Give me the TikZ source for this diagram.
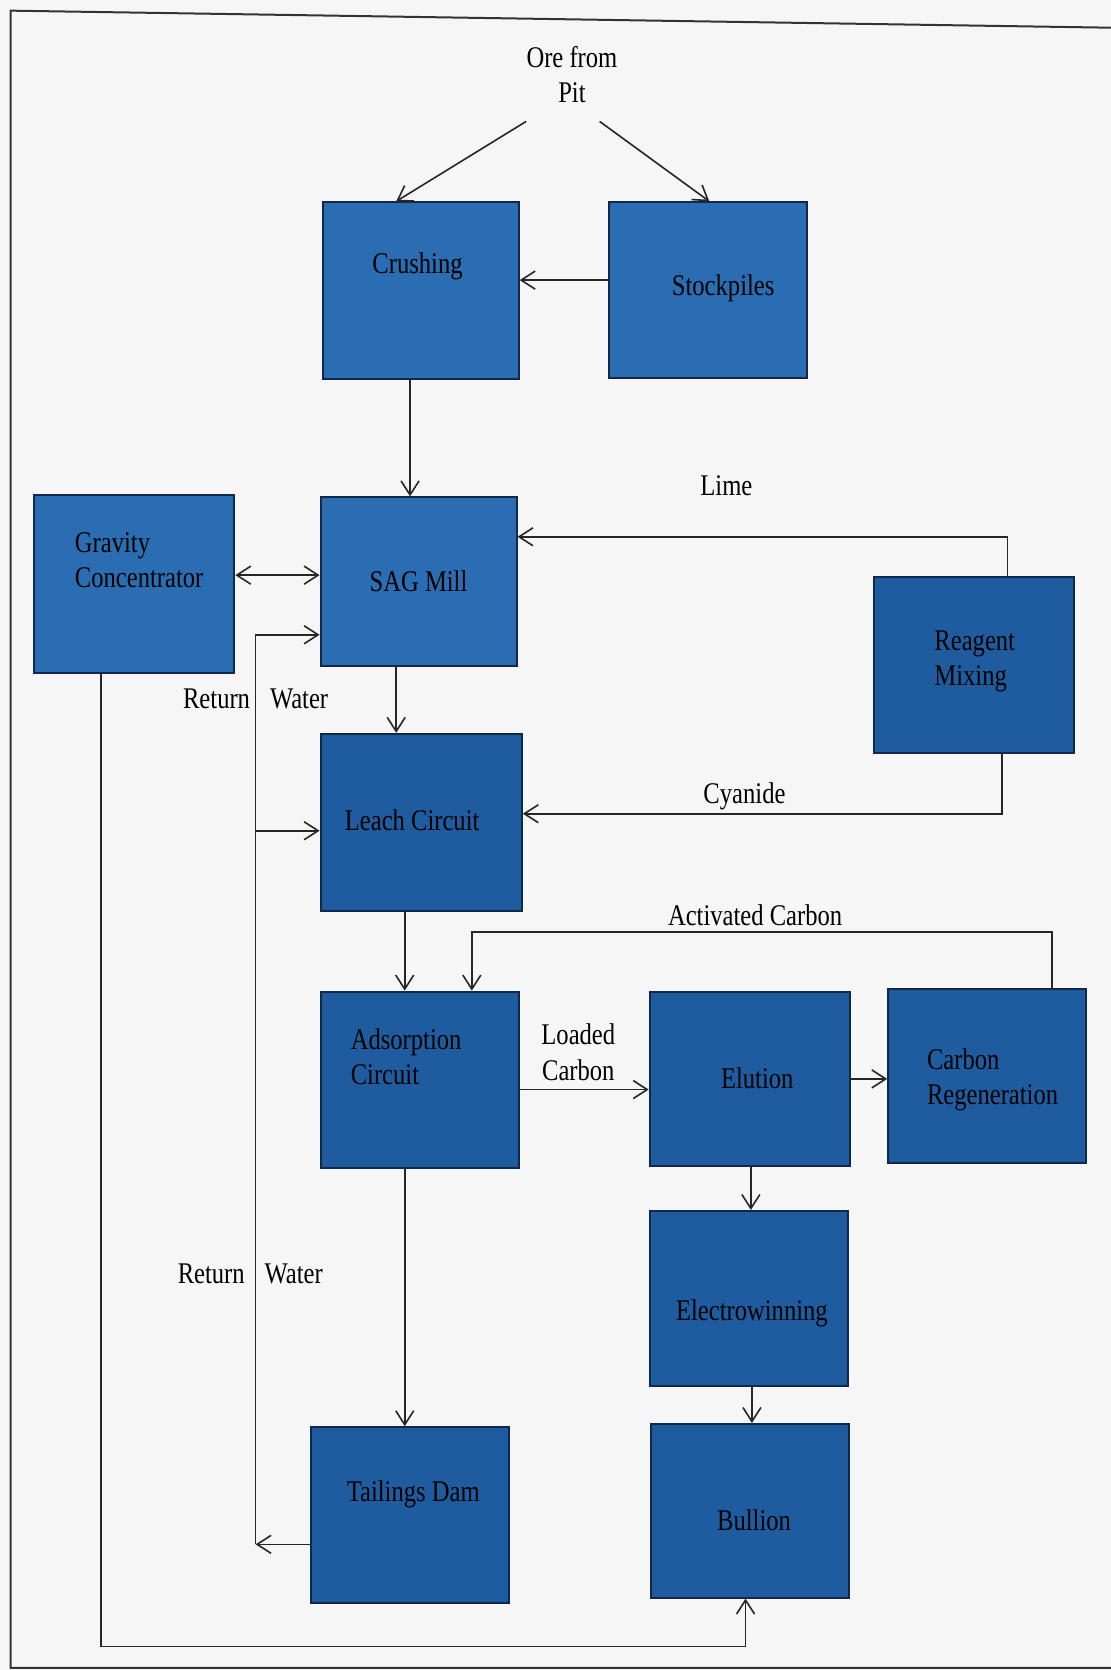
\documentclass[tikz,border=0pt]{standalone}
\usepackage{fontspec}
\setmainfont{Liberation Serif}[FakeStretch=0.82]
\usetikzlibrary{arrows.meta,fit}
\definecolor{bglight}{RGB}{246,246,247}
\definecolor{boxA}{RGB}{42,109,178}
\definecolor{boxB}{RGB}{31,92,159}
\definecolor{edgeblue}{RGB}{18,40,72}
\begin{document}
\begin{tikzpicture}[x=0.5326pt,y=-0.5326pt,
  pbox/.style={draw=edgeblue, line width=1pt, inner sep=0pt, fill=boxA},
  pboxd/.style={pbox, fill=boxB},
  lbl/.style={font=\fontsize{15}{17.6}\selectfont, inner sep=0pt, align=center},
  lbll/.style={lbl, align=left, anchor=west},
  flow/.style={draw=black!85, line width=0.8pt, -{Straight Barb[length=7pt,width=9pt,line width=0.8pt]}},
  dflow/.style={flow, {Straight Barb[length=7pt,width=9pt,line width=0.8pt]}-{Straight Barb[length=7pt,width=9pt,line width=0.8pt]}}]
\useasboundingbox (0,0) rectangle (1043,1568);
\fill[bglight] (0,0) rectangle (1043,1568);
\draw[line width=1pt, black!80] (1043,26) -- (10,10) -- (10,1566) -- (1043,1566);

% boxes
\node[pbox, fit={(303,190) (487,356)}] (crush) {};
\node[pbox, fit={(572,190) (758,355)}] (stock) {};
\node[pbox, fit={(32,465) (220,632)}] (grav) {};
\node[pbox, fit={(301,467) (485,625)}] (sag) {};
\node[pboxd, fit={(821,542) (1008,707)}] (reag) {};
\node[pboxd, fit={(301,689) (490,855)}] (leach) {};
\node[pboxd, fit={(301,931) (487,1097)}] (ads) {};
\node[pboxd, fit={(610,931) (798,1095)}] (elu) {};
\node[pboxd, fit={(834,929) (1020,1092)}] (creg) {};
\node[pboxd, fit={(610,1137) (796,1301)}] (ew) {};
\node[pboxd, fit={(292,1340) (478,1505)}] (tail) {};
\node[pboxd, fit={(611,1337) (797,1500)}] (bull) {};

% box texts
\node[lbl] (tcrush) at (392,250) {Crushing};
\node[lbl] (tstock) at (679,271) {Stockpiles};
\node[lbll] (tgrav) at (70,526) {Gravity\\Concentrator};
\node[lbl] (tsag) at (393,546) {SAG Mill};
\node[lbll] (treag) at (877,621) {Reagent\\Mixing};
\node[lbl] (tleach) at (387,770) {Leach Circuit};
\node[lbll] (tads) at (329,992) {Adsorption\\Circuit};
\node[lbl] (telu) at (711,1012) {Elution};
\node[lbll] (tcreg) at (870,1014) {Carbon\\Regeneration};
\node[lbl] (tew) at (706,1233) {Electrowinning};
\node[lbl] (ttail) at (388,1403) {Tailings Dam};
\node[lbl] (tbull) at (708,1427) {Bullion};

% free labels
\node[lbl] (ore) at (537,70) {Ore from\\Pit};
\node[lbl] (lime) at (682,456) {Lime};
\node[lbl] (cyan) at (699,748) {Cyanide};
\node[lbl] (actc) at (709,859) {Activated Carbon};
\node[lbl] (loadc) at (543,988) {Loaded\\Carbon};
\node[lbl] (rw1) at (240,656) {Return\hspace{10pt}Water};
\node[lbl] (rw2) at (235,1196) {Return\hspace{10pt}Water};

% coordinates
\coordinate (o1) at (494,114);
\coordinate (o2) at (563,114);
\coordinate (rw) at (240,1450);
\coordinate (rwb) at (240,780);
\coordinate (ac) at (443,875);
\coordinate (gb) at (95,1546);

% connectors
\draw[flow] (o1) -- (crush.north -| 372,0);
\draw[flow] (o2) -- (stock.north -| 666,0);
\draw[flow] (stock.west |- 0,263) -- (crush.east |- 0,263);
\draw[flow] (crush.south -| 385,0) -- (sag.north -| 385,0);
\draw[flow] (reag.north -| 946,0) |- (sag.east |- 0,504);
\draw[dflow] (grav.east |- 0,540) -- (sag.west |- 0,540);
\draw[flow] (sag.south -| 372,0) -- (leach.north -| 372,0);
\draw[flow] (reag.south -| 941,0) |- (leach.east |- 0,764);
\draw[flow] (tail.west |- rw) -- (rw);
\draw[flow] (rw) |- (sag.west |- 0,596);
\draw[flow] (rwb) -- (leach.west |- rwb);
\draw[flow] (leach.south -| 380,0) -- (ads.north -| 380,0);
\draw[flow] (ads.south -| 380,0) -- (tail.north -| 380,0);
\draw[flow] (creg.north -| 988,0) |- (ac) -- (ads.north -| ac);
\draw[flow] (ads.east |- 0,1023) -- (elu.west |- 0,1023);
\draw[flow] (elu.east |- 0,1013) -- (creg.west |- 0,1013);
\draw[flow] (elu.south -| 705,0) -- (ew.north -| 705,0);
\draw[flow] (ew.south -| 706,0) -- (bull.north -| 706,0);
\draw[flow] (grav.south -| gb) -- (gb) -| (bull.south -| 700,0);
\end{tikzpicture}
\end{document}
